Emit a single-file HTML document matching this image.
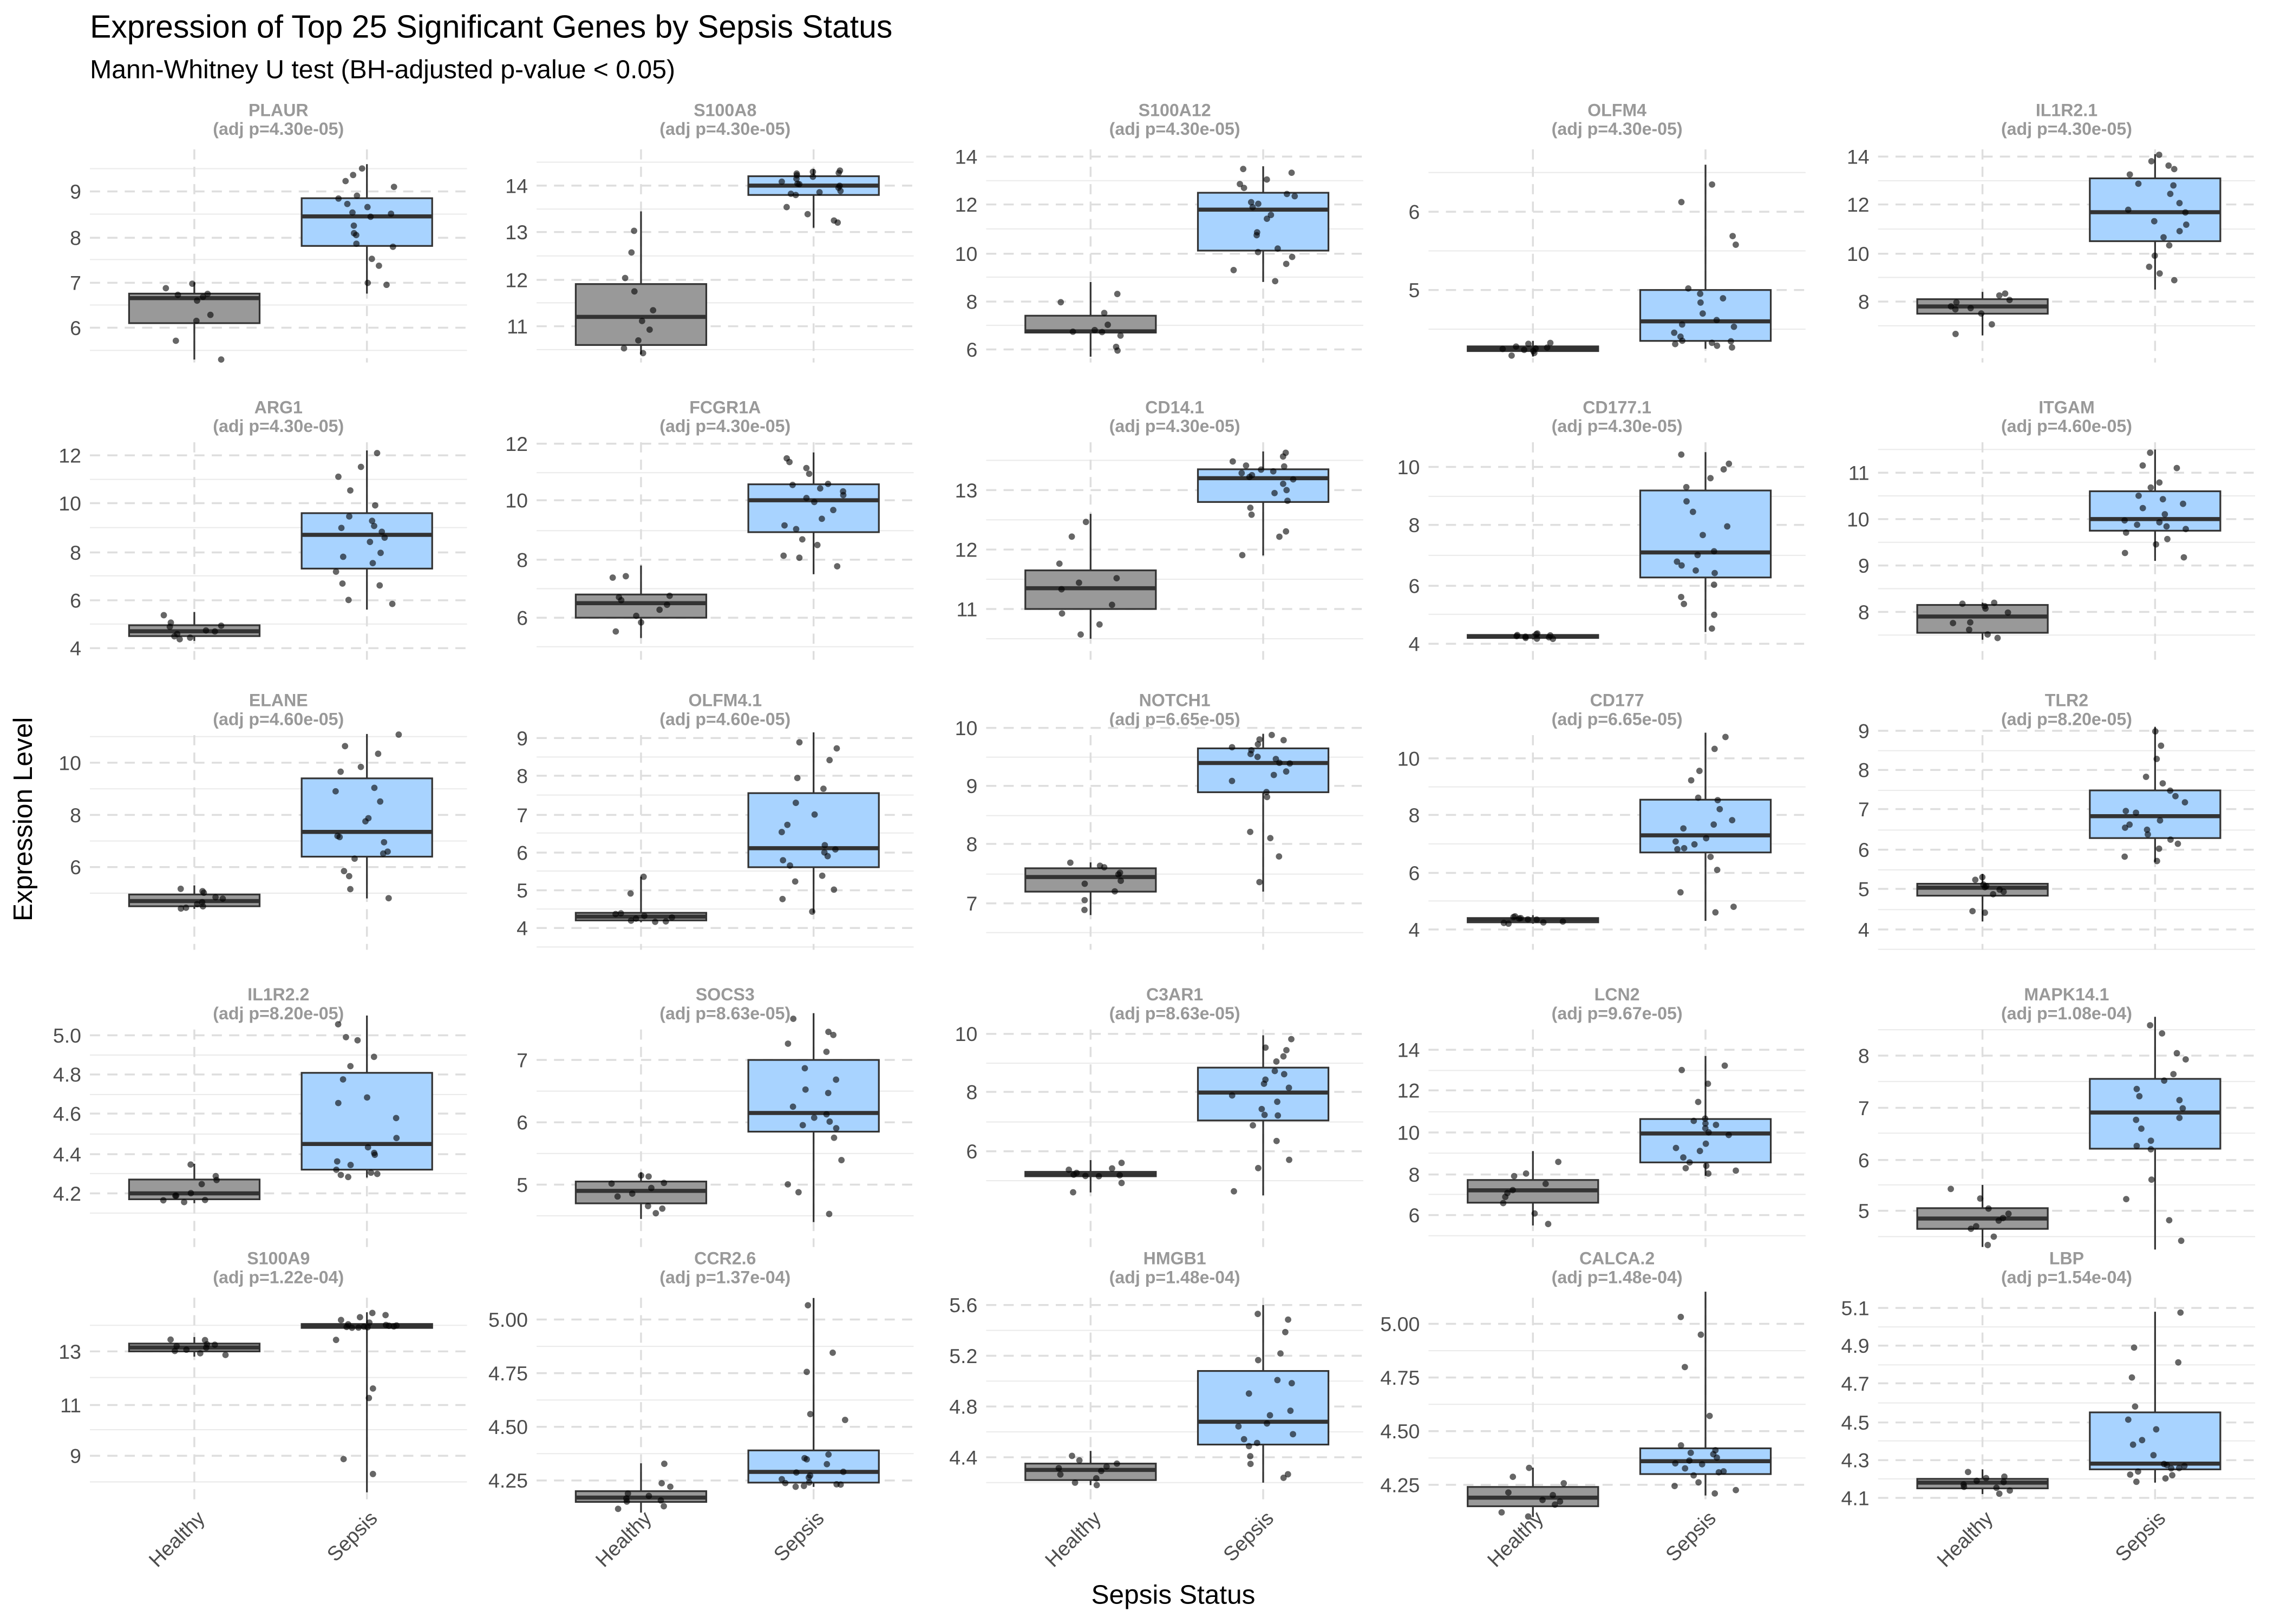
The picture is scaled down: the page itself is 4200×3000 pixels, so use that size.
<!DOCTYPE html>
<html><head><meta charset="utf-8">
<style>
html,body{margin:0;padding:0;background:#fff;}
svg{display:block;font-family:"Liberation Sans",sans-serif;}
</style></head>
<body>
<svg id="s" width="4200" height="3000" viewBox="0 0 1568 1120" xmlns="http://www.w3.org/2000/svg">
<rect width="1568" height="1120" fill="#fff"/>
<text x="62" y="26" font-size="22" fill="#000">Expression of Top 25 Significant Genes by Sepsis Status</text>
<text x="62" y="54" font-size="18" fill="#000">Mann-Whitney U test (BH-adjusted p-value &lt; 0.05)</text>
<text x="809" y="1106" font-size="18.5" text-anchor="middle" fill="#000">Sepsis Status</text>
<text transform="translate(22,565) rotate(-90)" font-size="18.5" text-anchor="middle" fill="#000">Expression Level</text>
<g id="g"></g>
</svg>
<script>
var P=[
["PLAUR","4.30e-05",[[9,132],[8,164],[7,195],[6,226]],[5.3,6.1,6.65,6.75,7.0],[6.75,7.8,8.45,8.85,9.6]],
["S100A8","4.30e-05",[[14,128],[13,160],[12,193],[11,225]],[10.4,10.6,11.2,11.9,13.45],[13.1,13.8,14.0,14.2,14.35]],
["S100A12","4.30e-05",[[14,108],[12,141],[10,175],[8,208],[6,241]],[5.7,6.7,6.75,7.4,8.8],[8.8,10.1,11.8,12.5,13.6]],
["OLFM4","4.30e-05",[[6,146],[5,200]],[4.15,4.22,4.25,4.28,4.35],[4.25,4.35,4.6,5.0,6.6]],
["IL1R2.1","4.30e-05",[[14,108],[12,141],[10,175],[8,208]],[6.6,7.5,7.8,8.1,8.4],[8.5,10.5,11.7,13.1,14.1]],
["ARG1","4.30e-05",[[12,314],[10,347],[8,381],[6,414],[4,447]],[4.3,4.5,4.7,4.95,5.5],[5.6,7.3,8.7,9.6,12.2]],
["FCGR1A","4.30e-05",[[12,306],[10,345],[8,386],[6,426]],[5.3,6.0,6.5,6.8,7.8],[7.5,8.95,10.05,10.6,11.7]],
["CD14.1","4.30e-05",[[13,338],[12,379],[11,420]],[10.5,11.0,11.35,11.65,12.6],[11.9,12.8,13.2,13.35,13.65]],
["CD177.1","4.30e-05",[[10,322],[8,362],[6,404],[4,444]],[4.15,4.2,4.25,4.3,4.35],[4.4,6.25,7.1,9.2,10.5]],
["ITGAM","4.60e-05",[[11,326],[10,358],[9,390],[8,422]],[7.4,7.55,7.9,8.15,8.2],[9.1,9.75,10.0,10.6,11.5]],
["ELANE","4.60e-05",[[10,526],[8,562],[6,598]],[4.4,4.5,4.7,4.95,5.3],[4.8,6.4,7.35,9.4,11.1]],
["OLFM4.1","4.60e-05",[[9,509],[8,535],[7,562],[6,588],[5,614],[4,640]],[4.15,4.2,4.3,4.4,5.35],[4.4,5.6,6.1,7.55,9.15]],
["NOTCH1","6.65e-05",[[10,502],[9,542],[8,582],[7,623]],[6.8,7.2,7.45,7.6,7.7],[7.2,8.9,9.4,9.65,9.9]],
["CD177","6.65e-05",[[10,523],[8,562],[6,602],[4,641]],[4.2,4.25,4.35,4.4,4.5],[4.3,6.7,7.3,8.55,10.9]],
["TLR2","8.20e-05",[[9,504],[8,531],[7,558],[6,586],[5,613],[4,641]],[4.2,4.85,5.05,5.15,5.4],[5.7,6.3,6.85,7.5,9.1]],
["IL1R2.2","8.20e-05",[["5.0",714],["4.8",741],["4.6",768],["4.4",796],["4.2",823]],[4.15,4.17,4.2,4.27,4.35],[4.28,4.32,4.45,4.81,5.1]],
["SOCS3","8.63e-05",[[7,731],[6,774],[5,817]],[4.45,4.7,4.9,5.05,5.2],[4.4,5.85,6.15,7.0,7.75]],
["C3AR1","8.63e-05",[[10,713],[8,753],[6,794]],[4.6,5.15,5.2,5.3,5.7],[4.5,7.05,8.0,8.85,9.95]],
["LCN2","9.67e-05",[[14,724],[12,752],[10,781],[8,810],[6,838]],[5.5,6.6,7.2,7.7,9.1],[7.9,8.55,9.95,10.65,13.7]],
["MAPK14.1","1.08e-04",[[8,728],[7,764],[6,800],[5,835]],[4.3,4.65,4.85,5.05,5.5],[4.25,6.2,6.9,7.55,8.75]],
["S100A9","1.22e-04",[[13,932],[11,969],[9,1004]],[12.8,13.0,13.15,13.3,13.55],[7.6,13.9,13.95,14.05,14.5]],
["CCR2.6","1.37e-04",[["5.00",910],["4.75",947],["4.50",984],["4.25",1021]],[4.1,4.15,4.17,4.2,4.33],[4.22,4.24,4.29,4.39,5.1]],
["HMGB1","1.48e-04",[["5.6",900],["5.2",935],["4.8",970],["4.4",1005]],[4.18,4.22,4.3,4.35,4.45],[4.2,4.5,4.68,5.08,5.6]],
["CALCA.2","1.48e-04",[["5.00",913],["4.75",950],["4.50",987],["4.25",1024]],[4.1,4.15,4.19,4.24,4.33],[4.2,4.3,4.36,4.42,5.15]],
["LBP","1.54e-04",[["5.1",902],["4.9",928],["4.7",954],["4.5",981],["4.3",1007],["4.1",1033]],[4.12,4.15,4.18,4.2,4.25],[4.18,4.25,4.28,4.55,5.08]]
];
var L=[62,370,680,985,1295],R=[[103,250],[305,455],[507,655],[710,860],[895,1037]],T=[80,285,487,690,872];
var seed=7;function rnd(){seed=(seed*16807)%2147483647;return seed/2147483647;}
function q(s,u){var k=Math.min(3,Math.floor(u*4)),f=u*4-k;return s[k]+(s[k+1]-s[k])*f;}
var h="";
P.forEach(function(p,i){
 var c=i%5,r=Math.floor(i/5),x0=L[c],x1=x0+260,y0=R[r][0],y1=R[r][1];
 var t=p[2],a=parseFloat(t[0][0]),b=parseFloat(t[t.length-1][0]),ya=t[0][1],yb=t[t.length-1][1];
 var Y=function(v){return ya+(v-a)*(yb-ya)/(b-a);};
 var hx=x0+72,sx=x0+191;
 h+='<text x="'+(x0+130)+'" y="'+T[r]+'" font-size="12" font-weight="bold" fill="#999" text-anchor="middle">'+p[0]+'</text>';
 h+='<text x="'+(x0+130)+'" y="'+(T[r]+13)+'" font-size="12" font-weight="bold" fill="#999" text-anchor="middle">(adj p='+p[1]+')</text>';
 var st=(a-b)/(t.length-1);
 for(var k=-1;k<t.length;k++){var v=a-st*(k+0.5);var yy=Y(v);if(yy>y0&&yy<y1)h+='<line x1="'+x0+'" x2="'+x1+'" y1="'+yy+'" y2="'+yy+'" stroke="#ebebeb" stroke-width="0.8"/>';}
 t.forEach(function(tk){var yy=tk[1];h+='<line x1="'+x0+'" x2="'+x1+'" y1="'+yy+'" y2="'+yy+'" stroke="#dedede" stroke-width="1.3" stroke-dasharray="7,5"/>';
  h+='<text x="'+(x0-6)+'" y="'+(yy+5)+'" font-size="14" fill="#4d4d4d" text-anchor="end">'+tk[0]+'</text>';});
 [hx,sx].forEach(function(xx){h+='<line x1="'+xx+'" x2="'+xx+'" y1="'+y0+'" y2="'+y1+'" stroke="#dedede" stroke-width="1.3" stroke-dasharray="7,5"/>';});
 [[hx,p[3],"#999999",10],[sx,p[4],"#a8d3ff",20]].forEach(function(g){var xx=g[0],s=g[1];
  h+='<line x1="'+xx+'" x2="'+xx+'" y1="'+Y(s[0])+'" y2="'+Y(s[4])+'" stroke="#333" stroke-width="1.2"/>';
  h+='<rect x="'+(xx-45)+'" y="'+Y(s[3])+'" width="90" height="'+Math.max(1,Y(s[1])-Y(s[3]))+'" fill="'+g[2]+'" stroke="#333" stroke-width="1.2"/>';
  h+='<line x1="'+(xx-45)+'" x2="'+(xx+45)+'" y1="'+Y(s[2])+'" y2="'+Y(s[2])+'" stroke="#333" stroke-width="2.8"/>';
  for(var n=0;n<g[3];n++){var u=(n+rnd())/g[3];var v=q(s,u);h+='<circle cx="'+(xx+(rnd()-0.5)*44)+'" cy="'+Y(v)+'" r="2.2" fill="#000" fill-opacity="0.6"/>';}
 });
 if(r==4){["Healthy","Sepsis"].forEach(function(lb,j){var xx=j?sx:hx;h+='<text transform="translate('+(xx+8)+',1048) rotate(-45)" font-size="14" fill="#4d4d4d" text-anchor="end">'+lb+'</text>';});}
});
document.getElementById("g").innerHTML=h;
</script>
</body></html>
